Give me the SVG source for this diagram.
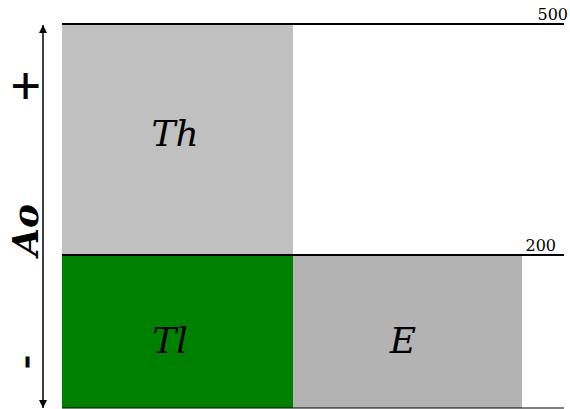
<svg xmlns="http://www.w3.org/2000/svg" width="570" height="409" viewBox="0 0 570 409">
<style>
.lbl{font-family:"DejaVu Serif",serif;font-style:italic;font-size:36px;fill:#000;text-anchor:middle}
.ax{font-family:"DejaVu Serif",serif;font-size:16px;fill:#000;text-anchor:end}
.side{font-family:"DejaVu Serif",serif;font-size:40px;fill:#000;text-anchor:middle}
.pm{stroke:#000;stroke-width:0.9}
</style>
<defs>
<marker id="ah" viewBox="0 0 10 10" refX="10" refY="5" markerWidth="8" markerHeight="8" markerUnits="userSpaceOnUse" orient="auto-start-reverse">
<path d="M0,0 L10,5 L0,10 z" fill="#000"/>
</marker>
</defs>
<g id="Th"><rect x="62" y="24" width="231" height="231" fill="#c0c0c0"/><text class="lbl" x="175" y="146">Th</text></g>
<g id="Tl"><rect x="62" y="255" width="231" height="153" fill="#008000"/><text class="lbl" x="170" y="353">Tl</text></g>
<g id="E"><rect x="293" y="255" width="229" height="153" fill="#b3b3b3"/><text class="lbl" x="403" y="353">E</text></g>
<g id="connectors">
<line x1="62" y1="24" x2="564" y2="24" stroke="#000" stroke-width="2"/>
<line x1="62" y1="255" x2="564" y2="255" stroke="#000" stroke-width="2"/>
<line x1="62" y1="408" x2="564" y2="408" stroke="#000" stroke-width="1"/>
<line x1="43" y1="25" x2="43" y2="408" stroke="#000" stroke-width="1.5" marker-start="url(#ah)" marker-end="url(#ah)"/>
</g>
<text class="ax" x="568" y="20">500</text>
<text class="ax" x="556" y="251">200</text>
<text class="side pm" transform="translate(38,86) rotate(-90)">+</text>
<text class="side pm" transform="translate(38,362) rotate(-90)">-</text>
<text class="side" style="font-style:italic;font-weight:bold;font-size:36px" transform="translate(38,230) rotate(-90)">Ao</text>
</svg>
